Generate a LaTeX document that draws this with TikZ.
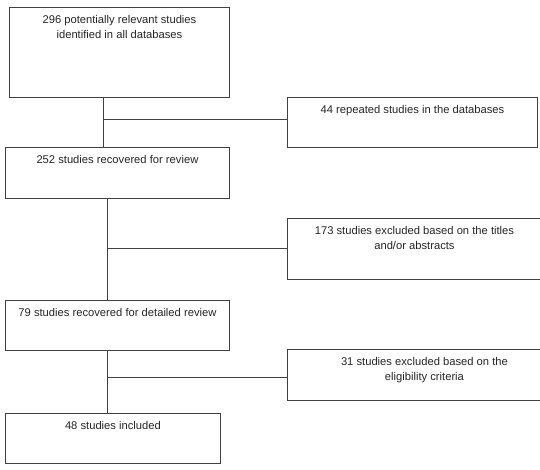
\documentclass[tikz,border=0pt]{standalone}
\usepackage{fontspec}
\setmainfont{Liberation Sans}
\usetikzlibrary{positioning, calc}

\begin{document}
\begin{tikzpicture}[
    x=1pt, y=-1pt,
    box/.style={draw=black!75, line width=0.9pt, anchor=north west, inner sep=0pt},
    txt/.style={anchor=north, inner sep=0pt, align=center, text=black!85,
                font=\fontsize{11.2}{15}\selectfont},
    link/.style={draw=black!75, line width=0.9pt}
]
\clip (0,0) rectangle (540,469);
\fill[white] (0,0) rectangle (540,469);

% === MAIN COLUMN ===
\node[box, minimum width=220pt, minimum height=90pt] (found) at (9,7) {};
\node[txt] (found-t) at ([yshift=-8.5pt]found.north) {296 potentially relevant studies\\identified in all databases};

\node[box, minimum width=224pt, minimum height=51pt] (review) at (5,147) {};
\node[txt] (review-t) at ([yshift=-8.5pt]review.north) {252 studies recovered for review};

\node[box, minimum width=224pt, minimum height=50pt] (detail) at (5,300) {};
\node[txt] (detail-t) at ([yshift=-8.5pt]detail.north) {79 studies recovered for detailed review};

\node[box, minimum width=215pt, minimum height=50pt] (incl) at (5,413) {};
\node[txt] (incl-t) at ([yshift=-8.5pt]incl.north) {48 studies included};

% === EXCLUSIONS ===
\node[box, minimum width=250pt, minimum height=50pt] (dup) at (287,97) {};
\node[txt] (dup-t) at ([yshift=-8.5pt]dup.north) {44 repeated studies in the databases};

\node[box, minimum width=254pt, minimum height=61pt] (title) at (287,218) {};
\node[txt] (title-t) at ([yshift=-8.5pt]title.north) {173 studies excluded based on the titles\\and/or abstracts};

\node[box, minimum width=274pt, minimum height=51pt] (elig) at (287,349) {};
\node[txt] (elig-t) at ([yshift=-8.5pt]elig.north) {31 studies excluded based on the\\eligibility criteria};

% === CONNECTORS ===
\coordinate (j1) at (103,119);
\coordinate (j2) at (107,248);
\coordinate (j3) at (107,377);

\draw[link] (found.south -| j1) -- (review.north -| j1);
\draw[link] (j1) -- (j1 -| dup.west);

\draw[link] (review.south -| j2) -- (detail.north -| j2);
\draw[link] (j2) -- (j2 -| title.west);

\draw[link] (detail.south -| j3) -- (incl.north -| j3);
\draw[link] (j3) -- (j3 -| elig.west);

\end{tikzpicture}
\end{document}
